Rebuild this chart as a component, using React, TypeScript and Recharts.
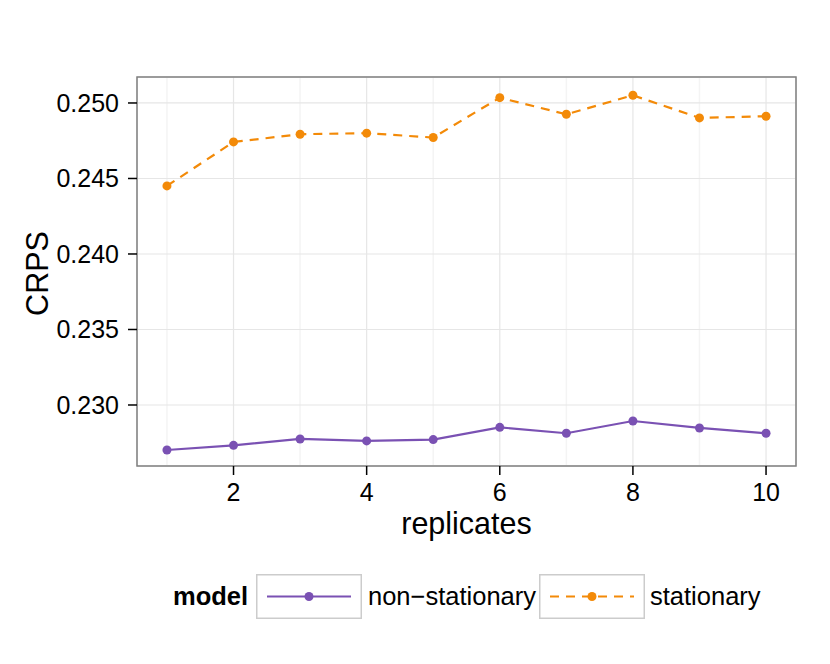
import React from 'react'
import {
  CartesianGrid,
  Label,
  Line,
  LineChart,
  ReferenceArea,
  XAxis,
  YAxis,
} from 'recharts'

const replicates = [1, 2, 3, 4, 5, 6, 7, 8, 9, 10]
const nonStationary = [
  0.22702, 0.22733, 0.22775, 0.22762, 0.22771, 0.22852, 0.22813, 0.22894,
  0.22848, 0.22813,
]
const stationary = [
  0.24451, 0.24742, 0.24793, 0.248, 0.24771, 0.25035, 0.24925, 0.25051,
  0.24901, 0.24912,
]
const xTicks = [2, 4, 6, 8, 10]
const xMinorTicks = [1, 3, 5, 7, 9]
const yTicks = [0.23, 0.235, 0.24, 0.245, 0.25]
const yMinorTicks = [0.2275, 0.2325, 0.2375, 0.2425, 0.2475]
const xDomain = [0.55, 10.45]
const yDomain = [0.22596, 0.25172]

const seriesNames = ['non\u2212stationary', 'stationary']
const seriesColors = ['#7a51b3', '#f38a08']

const data = replicates.map((r, i) => ({
  replicates: r,
  nonStationary: nonStationary[i],
  stationary: stationary[i],
}))

const FONT = '"Liberation Sans", Arial, Helvetica, sans-serif'

const LegendKey = ({ color, dashed, width }: { color: string; dashed: boolean; width: number }) => (
  <svg width={width} height={45} style={{ display: 'block', flex: 'none' }}>
    <rect x={0.75} y={0.75} width={width - 1.5} height={43.5} fill="#fff" stroke="#cccccc" strokeWidth={1.5} />
    <line
      x1={11}
      x2={width - 11}
      y1={22.5}
      y2={22.5}
      stroke={color}
      strokeWidth={2.2}
      strokeDasharray={dashed ? '9 7' : undefined}
    />
    <circle cx={width / 2} cy={22.5} r={4.5} fill={color} />
  </svg>
)

export default function App() {
  return (
    <div style={{ position: 'absolute', left: 0, top: 0, width: 830, height: 664, background: '#fff', fontFamily: FONT }}>
      <LineChart
        width={830}
        height={664}
        data={data}
        margin={{ top: 77, right: 34, bottom: 168, left: 77 }}
      >
        <XAxis xAxisId="minor" dataKey="replicates" type="number" domain={xDomain} ticks={xMinorTicks} hide />
        <YAxis yAxisId="minor" type="number" domain={yDomain} ticks={yMinorTicks} hide />
        <CartesianGrid xAxisId="minor" yAxisId="minor" stroke="#f4f4f4" strokeWidth={1.5} />
        <XAxis
          dataKey="replicates"
          type="number"
          domain={xDomain}
          ticks={xTicks}
          allowDataOverflow
          height={30}
          axisLine={false}
          tickSize={9}
          tickMargin={8}
          tickLine={{ stroke: '#000', strokeWidth: 1.5 }}
          tick={{ fill: '#000', fontSize: 25, fontFamily: FONT }}
        >
          <Label
            content={(p: any) => (
              <text
                x={p.viewBox.x + p.viewBox.width / 2}
                y={p.viewBox.y + 68}
                textAnchor="middle"
                fontSize={30.5}
                fontFamily={FONT}
                fill="#000"
              >
                replicates
              </text>
            )}
          />
        </XAxis>
        <YAxis
          type="number"
          domain={yDomain}
          ticks={yTicks}
          allowDataOverflow
          width={60}
          axisLine={false}
          tickSize={9}
          tickMargin={9}
          tickLine={{ stroke: '#000', strokeWidth: 1.5 }}
          tick={{ fill: '#000', fontSize: 25, fontFamily: FONT }}
          tickFormatter={(v: number) => v.toFixed(3)}
        >
          <Label
            content={(p: any) => {
              const cx = p.viewBox.x - 40
              const cy = p.viewBox.y + p.viewBox.height / 2 + 2
              return (
                <text
                  x={cx}
                  y={cy}
                  transform={`rotate(-90 ${cx} ${cy})`}
                  textAnchor="middle"
                  dominantBaseline="central"
                  fontSize={30.5}
                  fontFamily={FONT}
                  fill="#000"
                >
                  CRPS
                </text>
              )
            }}
          />
        </YAxis>
        <CartesianGrid stroke="#e6e6e6" strokeWidth={1.2} />
        <ReferenceArea
          x1={xDomain[0]}
          x2={xDomain[1]}
          y1={yDomain[0]}
          y2={yDomain[1]}
          fill="none"
          fillOpacity={0}
          stroke="#808080"
          strokeWidth={1.5}
        />
        <Line
          dataKey="nonStationary"
          name={seriesNames[0]}
          stroke={seriesColors[0]}
          strokeWidth={2.2}
          dot={{ r: 4.5, fill: seriesColors[0], stroke: 'none' }}
          isAnimationActive={false}
        />
        <Line
          dataKey="stationary"
          name={seriesNames[1]}
          stroke={seriesColors[1]}
          strokeWidth={2.2}
          strokeDasharray="9 7"
          dot={{ r: 4.5, fill: seriesColors[1], stroke: 'none', strokeDasharray: '' }}
          isAnimationActive={false}
        />
      </LineChart>
      <div
        style={{
          position: 'absolute',
          left: 173,
          top: 574,
          height: 45,
          display: 'flex',
          alignItems: 'center',
          fontSize: 25.5,
          color: '#000',
          whiteSpace: 'nowrap',
        }}
      >
        <span style={{ fontWeight: 'bold', width: 83, flex: 'none' }}>model</span>
        <LegendKey color={seriesColors[0]} dashed={false} width={106} />
        <span style={{ marginLeft: 6, width: 171, flex: 'none' }}>{seriesNames[0]}</span>
        <LegendKey color={seriesColors[1]} dashed width={106} />
        <span style={{ marginLeft: 5 }}>{seriesNames[1]}</span>
      </div>
    </div>
  )
}
